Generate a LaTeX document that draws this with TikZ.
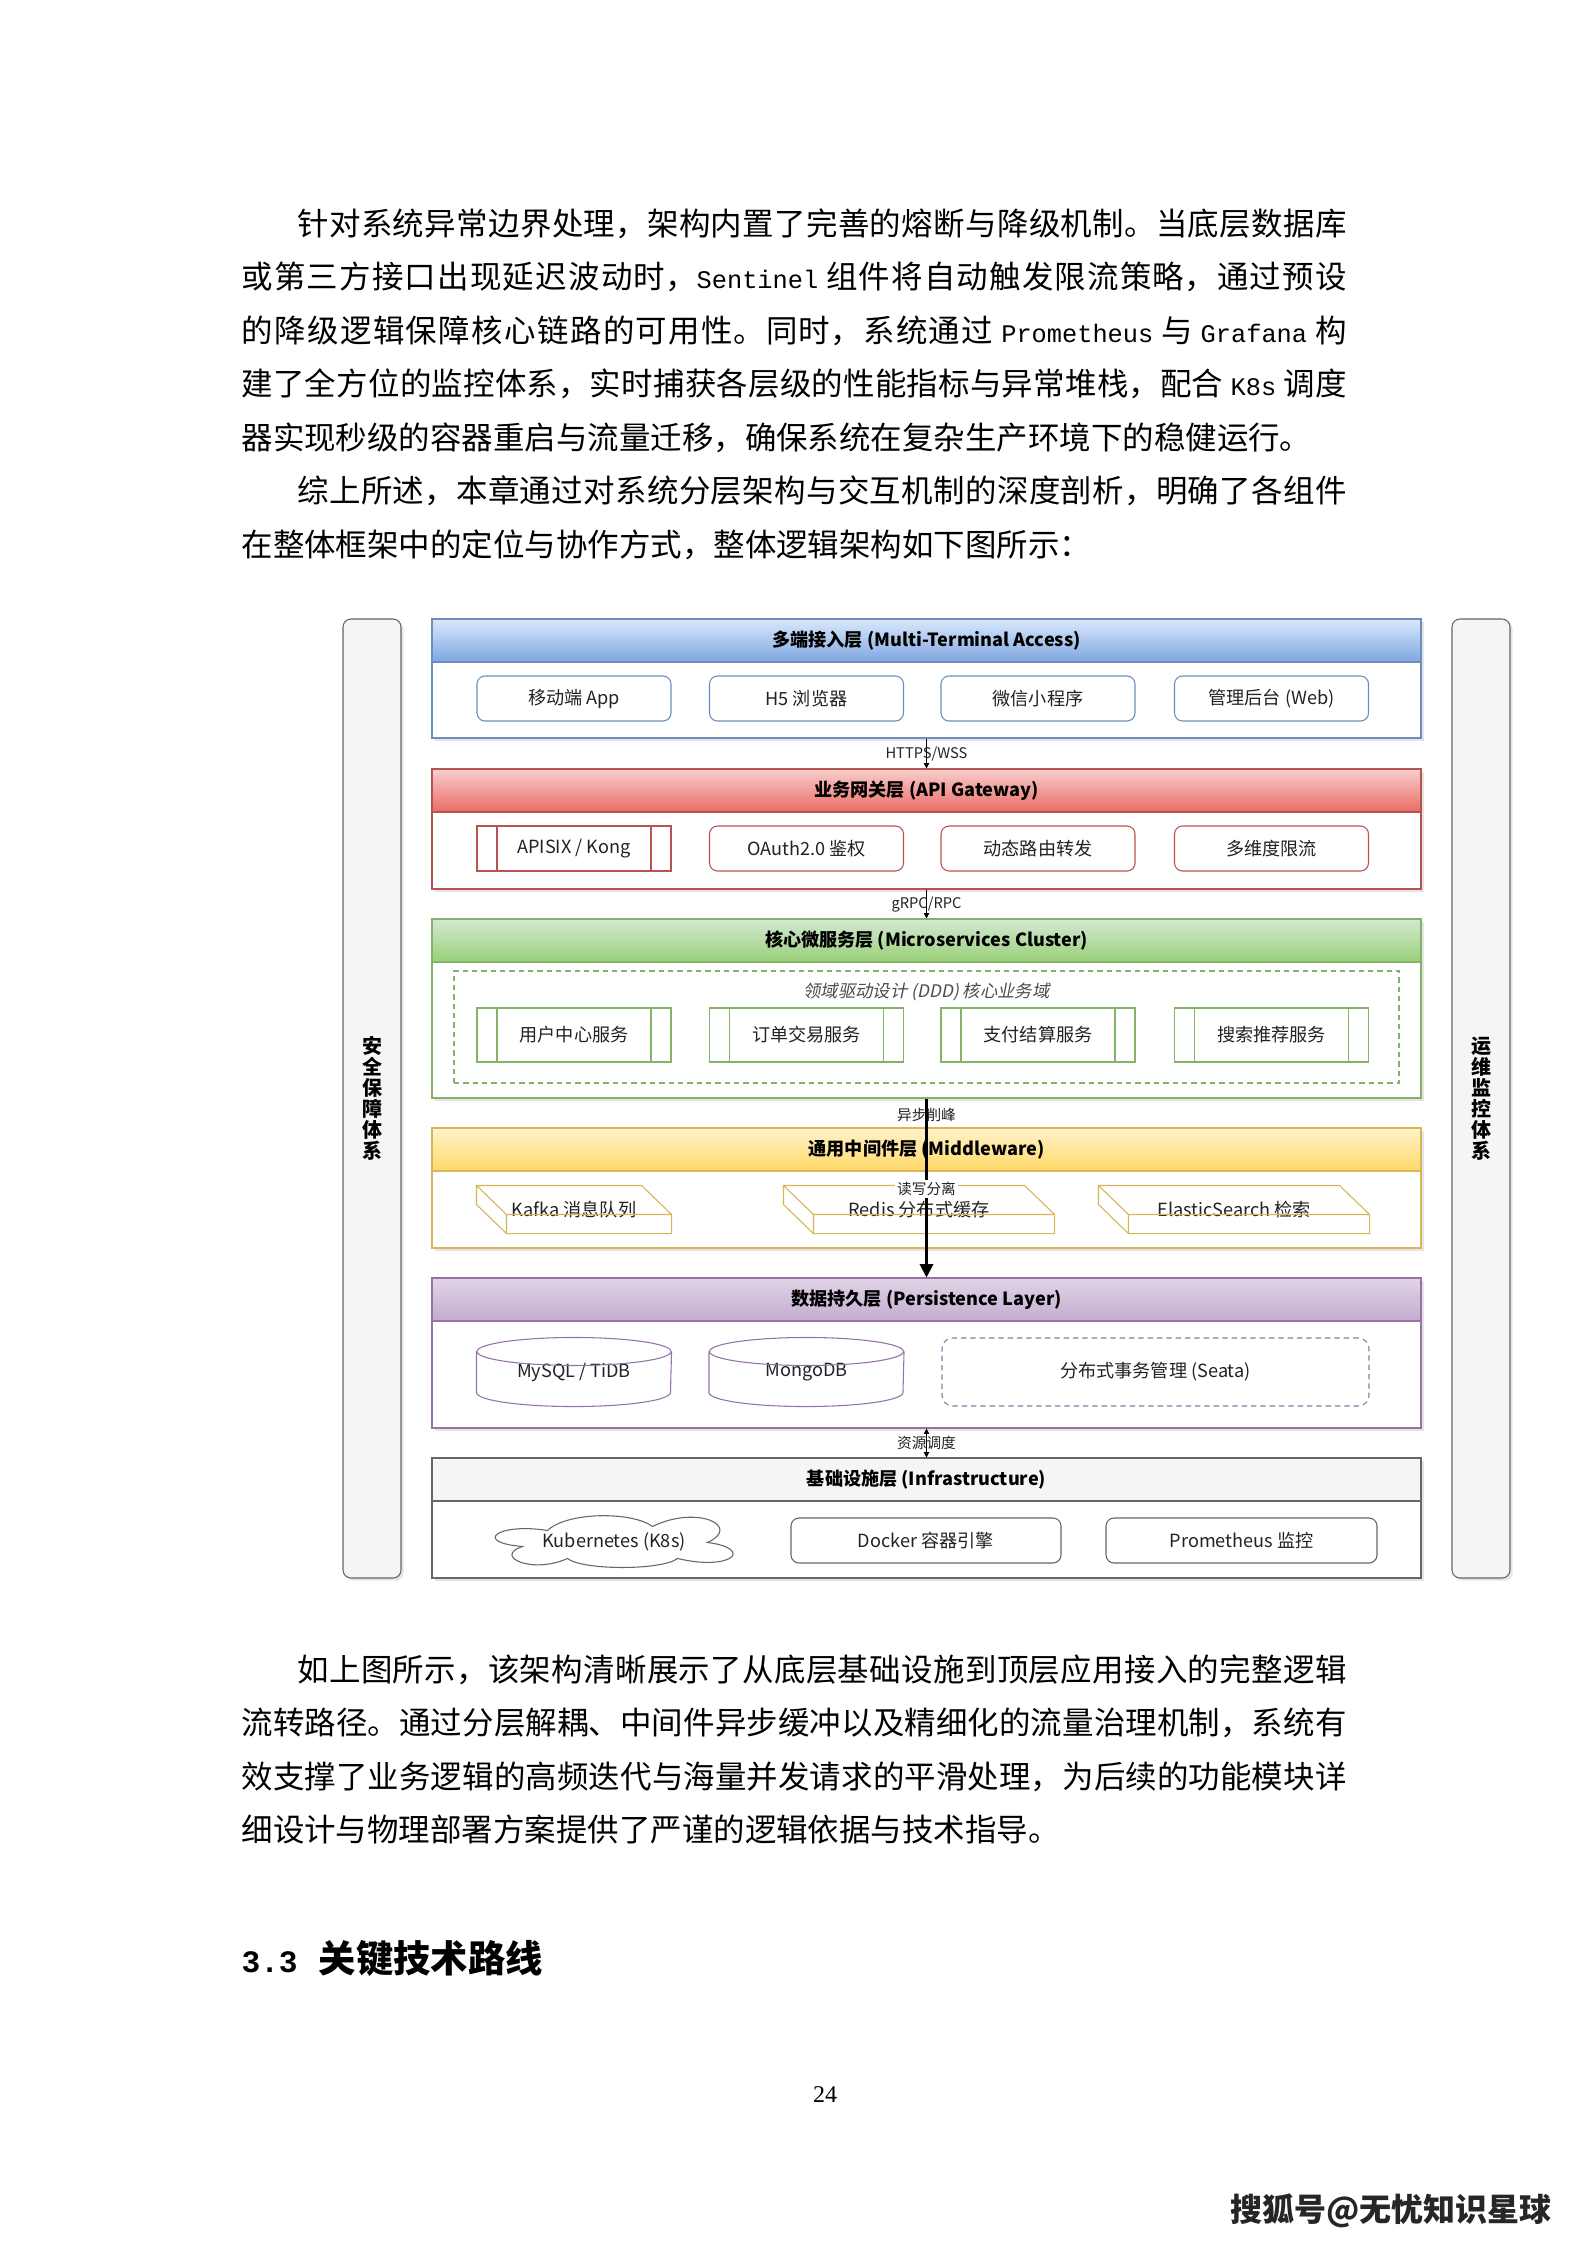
\documentclass[tikz,border=0pt]{standalone}
\usepackage{fontspec}
\setmainfont{Noto Sans CJK SC}
\newfontfamily\latinmono{Liberation Mono}
\newfontfamily\numserif{Liberation Serif}
\newfontfamily\slantcjk[FakeSlant=0.2]{Noto Sans CJK SC}
\usepackage{xcolor}
\usepackage{tikz}
\usetikzlibrary{arrows.meta, positioning, shadows}

\XeTeXlinebreaklocale "zh"
\XeTeXlinebreakskip=0pt plus 2pt minus 0.5pt
\setlength{\parindent}{0pt}

\newcommand{\pxl}{0.375pt}
\newcommand{\en}[1]{{\latinmono\fontsize{9.5}{12}\selectfont #1}}
\newcommand{\fillrow}[1]{\parfillskip=0pt\relax #1\par}

\definecolor{blueline}{HTML}{6C8EBF}
\definecolor{bluetop}{HTML}{DAE8FC}
\definecolor{bluebot}{HTML}{7EA6E0}
\definecolor{redline}{HTML}{B85450}
\definecolor{redtop}{HTML}{F8CECC}
\definecolor{redbot}{HTML}{EA6B66}
\definecolor{greenline}{HTML}{82B366}
\definecolor{greentop}{HTML}{D5E8D4}
\definecolor{greenbot}{HTML}{97D077}
\definecolor{yellowline}{HTML}{D6B656}
\definecolor{yellowtop}{HTML}{FFF2CC}
\definecolor{yellowbot}{HTML}{FFD966}
\definecolor{purpleline}{HTML}{9673A6}
\definecolor{purpletop}{HTML}{E1D5E7}
\definecolor{purplebot}{HTML}{C3ABD0}
\definecolor{grayline}{HTML}{666666}
\definecolor{barfill}{HTML}{F5F5F5}
\definecolor{txt}{HTML}{222222}

\begin{document}
\begin{tikzpicture}[x=0.375pt, y=-0.375pt,
    bodyline/.style={anchor=base west, inner sep=0pt, text width=#1, align=justify,
                     font=\fontsize{11.8}{14}\selectfont},
    sidebar/.style={draw=grayline, fill=barfill, rounded corners=3pt, minimum width=58*\pxl,
                    minimum height=959*\pxl, align=center, font=\fontsize{7.5}{7.9}\selectfont\bfseries,
                    drop shadow={opacity=0.2, shadow xshift=1pt, shadow yshift=-1pt}},
    tier/.style={draw=#1, fill=white, minimum width=989*\pxl, inner sep=0pt,
                 drop shadow={opacity=0.2, shadow xshift=1pt, shadow yshift=-1pt}},
    tierhead/.style={draw=#1, anchor=north, minimum width=989*\pxl, minimum height=43*\pxl,
                     inner sep=0pt, font=\fontsize{6.8}{8}\selectfont\bfseries},
    box/.style={draw=#1, fill=white, rounded corners=3pt, minimum width=194*\pxl,
                minimum height=45*\pxl, inner sep=1pt, text=txt, font=\fontsize{6.8}{8}\selectfont},
    procbox/.style={box=#1, sharp corners,
                    path picture={\draw[#1] ([xshift=20*\pxl]path picture bounding box.north west)
                        -- ([xshift=20*\pxl]path picture bounding box.south west)
                        ([xshift=-20*\pxl]path picture bounding box.north east)
                        -- ([xshift=-20*\pxl]path picture bounding box.south east);}},
    cubebox/.style={minimum height=47*\pxl, inner sep=0pt, text=txt, font=\fontsize{6.8}{8}\selectfont},
    dbbox/.style={minimum width=194*\pxl, minimum height=68*\pxl, inner sep=0pt, text=txt,
                  font=\fontsize{6.8}{8}\selectfont},
    dashbox/.style={draw=#1, dash pattern=on 2pt off 1.5pt, inner sep=0pt, text=txt,
                    font=\fontsize{6.8}{8}\selectfont},
    lbl/.style={inner sep=0.8pt, text=txt, font=\fontsize{5.5}{6}\selectfont},
    link/.style={-{Triangle[length=2pt, width=2pt]}, line width=0.4pt},
    twoway/.style={{Triangle[length=2pt, width=2pt]}-{Triangle[length=2pt, width=2pt]}, line width=0.4pt},
    flow/.style={-{Triangle[length=5pt, width=5pt]}, line width=0.8pt}
    ]
    \fill[white] (0,0) rectangle (1587,2245);
    \useasboundingbox (0,0) rectangle (1587,2245);

    \node[bodyline=393.4pt] (p1a) at (297,235) {\fillrow{针对系统异常边界处理，架构内置了完善的熔断与降级机制。当底层数据库}};
    \node[bodyline=414.4pt] (p1b) at (241,288.5) {\fillrow{或第三方接口出现延迟波动时，\en{Sentinel} 组件将自动触发限流策略，通过预设}};
    \node[bodyline=414.4pt] (p1c) at (241,342) {\fillrow{的降级逻辑保障核心链路的可用性。同时，系统通过 \en{Prometheus} 与 \en{Grafana} 构}};
    \node[bodyline=414.4pt] (p1d) at (241,395.5) {\fillrow{建了全方位的监控体系，实时捕获各层级的性能指标与异常堆栈，配合 \en{K8s} 调度}};
    \node[bodyline=414.4pt] (p1e) at (241,449) {器实现秒级的容器重启与流量迁移，确保系统在复杂生产环境下的稳健运行。};
    \node[bodyline=393.4pt] (p2a) at (297,502.5) {\fillrow{综上所述，本章通过对系统分层架构与交互机制的深度剖析，明确了各组件}};
    \node[bodyline=414.4pt] (p2b) at (241,556) {在整体框架中的定位与协作方式，整体逻辑架构如下图所示：};

    \node[sidebar] (secbar) at (372,1098.5) {安\\全\\保\\障\\体\\系};
    \node[sidebar] (opsbar) at (1481,1098.5) {运\\维\\监\\控\\体\\系};

    \node[tier=blueline, minimum height=119*\pxl] (access) at (926.5,678.5) {};
    \node[tierhead=blueline, top color=bluetop, bottom color=bluebot] (accesshd) at (access.north)
        {多端接入层 (Multi-Terminal Access)};
    \node[box=blueline] (app) at (574,698.5) {移动端 App};
    \node[box=blueline] (h5) at (806.5,698.5) {H5 浏览器};
    \node[box=blueline] (wechat) at (1038,698.5) {微信小程序};
    \node[box=blueline] (admin) at (1271.5,698.5) {管理后台 (Web)};

    \node[tier=redline, minimum height=120*\pxl] (gateway) at (926.5,829) {};
    \node[tierhead=redline, top color=redtop, bottom color=redbot] (gatewayhd) at (gateway.north)
        {业务网关层 (API Gateway)};
    \node[procbox=redline] (apisix) at (574,848.5) {APISIX / Kong};
    \node[box=redline] (oauth) at (806.5,848.5) {OAuth2.0 鉴权};
    \node[box=redline] (route) at (1038,848.5) {动态路由转发};
    \node[box=redline] (limit) at (1271.5,848.5) {多维度限流};

    \node[tier=greenline, minimum height=179*\pxl] (micro) at (926.5,1008.5) {};
    \node[tierhead=greenline, top color=greentop, bottom color=greenbot] (microhd) at (micro.north)
        {核心微服务层 (Microservices Cluster)};
    \node[dashbox=greenline, minimum width=945*\pxl, minimum height=112*\pxl] (ddd) at (926.5,1027) {};
    \node[lbl, text=black!70, font=\fontsize{6.5}{8}\selectfont\slantcjk] (dddlbl) at (926.5,992)
        {领域驱动设计 (DDD) 核心业务域};
    \node[procbox=greenline, minimum height=54*\pxl] (usersvc) at (574,1035) {用户中心服务};
    \node[procbox=greenline, minimum height=54*\pxl] (ordersvc) at (806.5,1035) {订单交易服务};
    \node[procbox=greenline, minimum height=54*\pxl] (paysvc) at (1038,1035) {支付结算服务};
    \node[procbox=greenline, minimum height=54*\pxl] (searchsvc) at (1271.5,1035) {搜索推荐服务};

    \node[tier=yellowline, minimum height=120*\pxl] (middle) at (926.5,1188) {};
    \node[tierhead=yellowline, top color=yellowtop, bottom color=yellowbot] (middlehd) at (middle.north)
        {通用中间件层 (Middleware)};
    \node[cubebox, minimum width=194*\pxl] (kafka) at (574,1209.5) {Kafka 消息队列};
    \node[cubebox, minimum width=270*\pxl] (redis) at (919,1209.5) {Redis 分布式缓存};
    \node[cubebox, minimum width=270*\pxl] (es) at (1234,1209.5) {ElasticSearch 检索};
    \foreach \n in {kafka, redis, es} {
        \draw[yellowline] (\n.north west) -- ([xshift=-30*\pxl]\n.north east)
            -- ([yshift=-29*\pxl]\n.north east) -- (\n.south east)
            -- ([xshift=30*\pxl]\n.south west) -- ([yshift=29*\pxl]\n.south west) -- cycle
            (\n.north west) -- ([xshift=30*\pxl, yshift=-29*\pxl]\n.north west)
            -- ([yshift=-29*\pxl]\n.north east)
            ([xshift=30*\pxl, yshift=-29*\pxl]\n.north west) -- ([xshift=30*\pxl]\n.south west);
    }

    \node[tier=purpleline, minimum height=150*\pxl] (persist) at (926.5,1353) {};
    \node[tierhead=purpleline, top color=purpletop, bottom color=purplebot] (persisthd) at (persist.north)
        {数据持久层 (Persistence Layer)};
    \node[dbbox] (mysql) at (574,1372) {MySQL / TiDB};
    \node[dbbox] (mongo) at (806.5,1372) {MongoDB};
    \foreach \n in {mysql, mongo} {
        \draw[purpleline] ([yshift=-14*\pxl]\n.north west) -- ([yshift=14*\pxl]\n.south west)
            arc[start angle=180, end angle=360, x radius=97*\pxl, y radius=14*\pxl]
            -- ([yshift=-14*\pxl]\n.north east);
        \draw[purpleline] ([yshift=-14*\pxl]\n.north) ellipse [x radius=97*\pxl, y radius=14*\pxl];
    }
    \node[dashbox=purpleline, rounded corners=4pt, minimum width=427*\pxl, minimum height=68*\pxl]
        (seata) at (1155.5,1372) {分布式事务管理 (Seata)};

    \node[tier=grayline, minimum height=120*\pxl] (infra) at (926.5,1518) {};
    \node[tierhead=grayline, fill=barfill] (infrahd) at (infra.north) {基础设施层 (Infrastructure)};
    \node[minimum width=242*\pxl, minimum height=50*\pxl, inner sep=0pt, text=txt,
          font=\fontsize{6.8}{8}\selectfont] (k8s) at (614,1542) {Kubernetes (K8s)};
    \draw[grayline, shift={(k8s.north west)}] (55,14)
        .. controls (5,6) and (-20,26) .. (30,30)
        .. controls (0,40) and (40,58) .. (75,42)
        .. controls (90,54) and (170,54) .. (185,42)
        .. controls (240,55) and (262,32) .. (215,26)
        .. controls (250,10) and (205,-12) .. (160,10)
        .. controls (140,-5) and (75,-5) .. (55,14) -- cycle;
    \node[box=grayline, minimum width=270*\pxl] (docker) at (926,1540.5) {Docker 容器引擎};
    \node[box=grayline, minimum width=271*\pxl] (prom) at (1241.5,1540.5) {Prometheus 监控};

    \draw[link] (access) -- (gateway) node[midway, lbl] {HTTPS/WSS};
    \draw[link] (gateway) -- (micro) node[midway, lbl] {gRPC/RPC};
    \draw[flow] (micro) -- (persist) node[pos=0.094, lbl] {异步削峰}
        node[pos=0.506, lbl, fill=white] {读写分离};
    \draw[twoway] (persist) -- (infra) node[midway, lbl] {资源调度};

    \node[bodyline=393.4pt] (p3a) at (297,1681) {\fillrow{如上图所示，该架构清晰展示了从底层基础设施到顶层应用接入的完整逻辑}};
    \node[bodyline=414.4pt] (p3b) at (241,1734) {\fillrow{流转路径。通过分层解耦、中间件异步缓冲以及精细化的流量治理机制，系统有}};
    \node[bodyline=414.4pt] (p3c) at (241,1788) {\fillrow{效支撑了业务逻辑的高频迭代与海量并发请求的平滑处理，为后续的功能模块详}};
    \node[bodyline=414.4pt] (p3d) at (241,1841) {细设计与物理部署方案提供了严谨的逻辑依据与技术指导。};

    \node[anchor=base west, inner sep=0pt, font=\fontsize{14}{16}\selectfont\bfseries] (sectitle) at (241,1972)
        {{\latinmono\bfseries\fontsize{11.7}{14}\selectfont 3.3}\hspace{7.9pt}关键技术路线};
    \node[inner sep=0pt, font=\numserif\fontsize{9}{10}\selectfont] (pageno) at (825,2095) {24};
    \node[anchor=east, inner sep=0pt, text=black!85, font=\fontsize{12}{14}\selectfont\bfseries] (sohu)
        at (1552,2211) {搜狐号@无忧知识星球};
\end{tikzpicture}
\end{document}
